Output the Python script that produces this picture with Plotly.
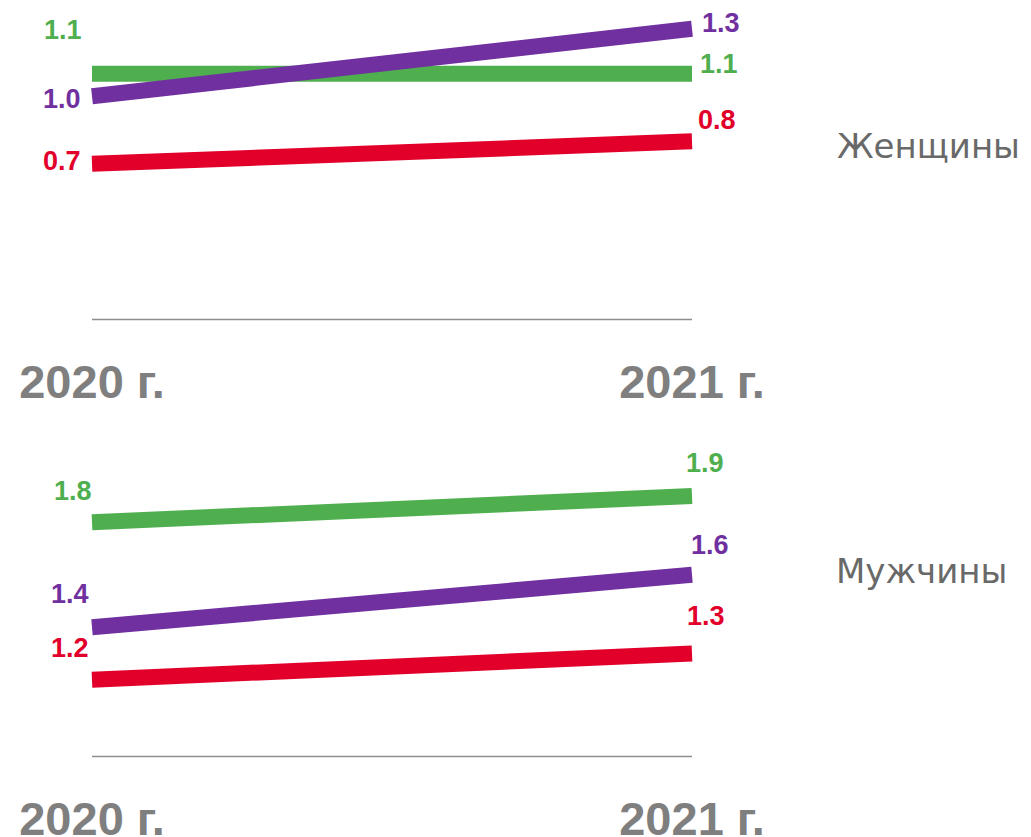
import plotly.graph_objects as go

# ---- data ----
years = ["2020 г.", "2021 г."]
women_green = [1.1, 1.1]
women_purple = [1.0, 1.3]
women_red = [0.7, 0.8]
men_green = [1.8, 1.9]
men_purple = [1.4, 1.6]
men_red = [1.2, 1.3]
panel_names = ["Женщины", "Мужчины"]

GREEN = "#4FAF4F"
PURPLE = "#7030A0"
RED = "#E2002B"
GRAY_TICK = "#7F7F7F"
GRAY_PANEL = "#696969"

W, H = 1031, 837

def py(p):
    return 1 - p / H

fig = go.Figure()

for vals, col in [(women_green, GREEN), (women_purple, PURPLE), (women_red, RED)]:
    fig.add_trace(go.Scatter(x=years, y=vals, mode="lines", line=dict(color=col, width=16),
                             xaxis="x", yaxis="y", showlegend=False, hoverinfo="skip"))
for vals, col in [(men_green, GREEN), (men_purple, PURPLE), (men_red, RED)]:
    fig.add_trace(go.Scatter(x=years, y=vals, mode="lines", line=dict(color=col, width=16),
                             xaxis="x2", yaxis="y2", showlegend=False, hoverinfo="skip"))

# data label offsets in px from each point
top_offsets = {
    "green": [(-29, 44), (27, 10)],
    "purple": [(-30, -3), (29, 6)],
    "red": [(-30, 3), (25, 21)],
}
bot_offsets = {
    "green": [(-19, 31), (13, 33)],
    "purple": [(-22, 33), (18, 30)],
    "red": [(-22, 32), (14, 38)],
}
annotations = []
for series, offs, xr, yr in [
    ({"green": women_green, "purple": women_purple, "red": women_red}, top_offsets, "x", "y"),
    ({"green": men_green, "purple": men_purple, "red": men_red}, bot_offsets, "x2", "y2"),
]:
    for key, col in [("green", GREEN), ("purple", PURPLE), ("red", RED)]:
        for i, v in enumerate(series[key]):
            dx, dy = offs[key][i]
            annotations.append(dict(
                x=years[i], y=v, xref=xr, yref=yr, text=f"{v:.1f}", showarrow=False,
                xshift=dx, yshift=dy, xanchor="center", yanchor="middle",
                font=dict(family="Liberation Sans, Arial, sans-serif", size=27,
                          weight="bold", color=col)))

# panel names
for name, cx, cy in [(panel_names[0], 928, 146), (panel_names[1], 921, 571)]:
    annotations.append(dict(x=cx / W, y=py(cy), xref="paper", yref="paper", text=name,
                            showarrow=False, xanchor="center", yanchor="middle",
                            font=dict(family="DejaVu Sans, sans-serif", size=34,
                                      color=GRAY_PANEL)))

# axis geometry: category 0 at px 92, category 1 at px 692
x0px, x1px = 92, 692
unit = x1px - x0px
xrange = [-x0px / unit, (W - x0px) / unit]

top_zero_px, top_scale = 321.5, 225.2
top_max = 1.42
top_top_px = top_zero_px - top_max * top_scale
bot_min, bot_min_px, bot_scale = 0.9, 758.5, 262.5
bot_max = 2.0
bot_top_px = bot_min_px - (bot_max - bot_min) * bot_scale

# baselines (double gray lines), 2px above and below the axis floor
shapes = []
for xr, yr, base, scale in [("x", "y", 0.0, top_scale), ("x2", "y2", bot_min, bot_scale)]:
    for off_px in (2.0, -2.0):
        yv = base + off_px / scale
        shapes.append(dict(type="line", xref=xr, yref=yr, x0=0, x1=1, y0=yv, y1=yv,
                           line=dict(color="#8E8E8E", width=1.5)))

tickfont = dict(family="Liberation Sans, Arial, sans-serif", size=47, weight="bold",
                color=GRAY_TICK)
xcommon = dict(type="category", range=xrange, showgrid=False, zeroline=False, showline=False,
               ticks="", tickfont=tickfont, fixedrange=True, ticklabelstandoff=28,
               automargin=False)
ycommon = dict(showgrid=False, zeroline=False, showline=False, showticklabels=False, ticks="",
               fixedrange=True, automargin=False)

fig.update_layout(
    width=W, height=H,
    margin=dict(l=0, r=0, t=0, b=0, pad=0, autoexpand=False),
    paper_bgcolor="white", plot_bgcolor="rgba(0,0,0,0)",
    showlegend=False,
    xaxis=dict(domain=[0, 1], anchor="y", **xcommon),
    yaxis=dict(domain=[py(top_zero_px), py(top_top_px)], range=[0, top_max], anchor="x", **ycommon),
    xaxis2=dict(domain=[0, 1], anchor="y2", **xcommon),
    yaxis2=dict(domain=[py(bot_min_px), py(bot_top_px)], range=[bot_min, bot_max], anchor="x2", **ycommon),
    annotations=annotations,
    shapes=shapes,
)

fig.write_html("out.html", config={"displayModeBar": False, "staticPlot": True},
               post_script="document.documentElement.style.cssText='margin:0;padding:0;overflow:hidden;';"
                           "document.body.style.cssText='margin:0;padding:0;overflow:hidden;';")
